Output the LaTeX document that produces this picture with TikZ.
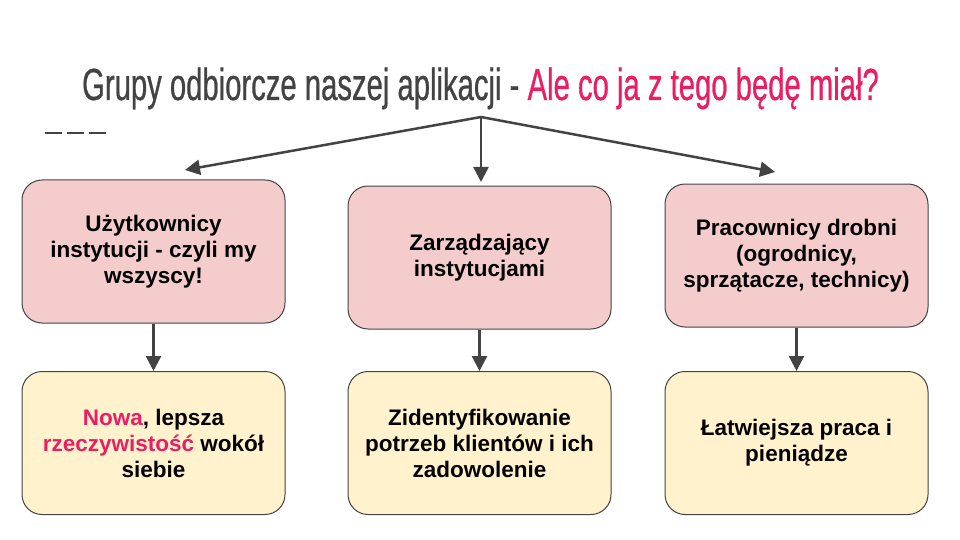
\documentclass[tikz,border=0pt]{standalone}
\usepackage{fontspec}
\setmainfont{Liberation Sans}
\newfontfamily\titlefont[FakeStretch=0.65,FakeBold=0.6]{Liberation Sans}
\usetikzlibrary{arrows.meta,positioning}
\definecolor{inkgray}{HTML}{434343}
\definecolor{hotpink}{HTML}{E91E63}
\definecolor{rosefill}{HTML}{F4CCCC}
\definecolor{creamfill}{HTML}{FFF2CC}

\begin{document}
\begin{tikzpicture}[x=1pt,y=-1pt,>={Triangle[length=15pt,width=15pt]},
    group/.style={draw=inkgray,line width=1pt,rounded corners=20pt,
        minimum width=263pt,minimum height=143pt,align=center,
        font=\bfseries\fontsize{22.5}{26}\selectfont},
    who/.style={group,fill=rosefill},
    gain/.style={group,fill=creamfill},
    arr/.style={->,draw=inkgray,fill=inkgray,line width=2.5pt}]
    \useasboundingbox (0,0) rectangle (960,540);
    % title
    \node[anchor=base,text=inkgray,font=\titlefont\fontsize{45}{50}\selectfont] (title) at (480.5,100)
        {Grupy odbiorcze naszej aplikacji - \textcolor{hotpink}{Ale co ja z tego będę miał?}};
    \draw[inkgray,line width=2pt,dash pattern=on 17pt off 5pt] (45,133) -- (106,133);
    % groups
    \node[who] (users) at (153.5,251.5) {Użytkownicy\\instytucji - czyli my\\wszyscy!};
    \node[who] (managers) at (479.5,257.5) {Zarządzający\\instytucjami};
    \node[who] (workers) at (796.5,255.5) {Pracownicy drobni\\(ogrodnicy,\\sprzątacze, technicy)};
    % what they get
    \node[gain] (users gain) at (153.5,443) {\textcolor{hotpink}{Nowa}, lepsza\\\textcolor{hotpink}{rzeczywistość} wokół\\siebie};
    \node[gain] (managers gain) at (479.5,443) {Zidentyfikowanie\\potrzeb klientów i ich\\zadowolenie};
    \node[gain] (workers gain) at (796.5,443) {Łatwiejsza praca i\\pieniądze};
    % arrows
    \coordinate (hub) at (481,117);
    \coordinate (tip users) at (185,170);
    \coordinate (tip managers) at (481,182);
    \coordinate (tip workers) at (775,172);
    \draw[arr] (hub) -- (tip users);
    \draw[arr] (hub) -- (tip managers);
    \draw[arr] (hub) -- (tip workers);
    \draw[arr] (users) -- (users gain);
    \draw[arr] (managers) -- (managers gain);
    \draw[arr] (workers) -- (workers gain);
\end{tikzpicture}
\end{document}
